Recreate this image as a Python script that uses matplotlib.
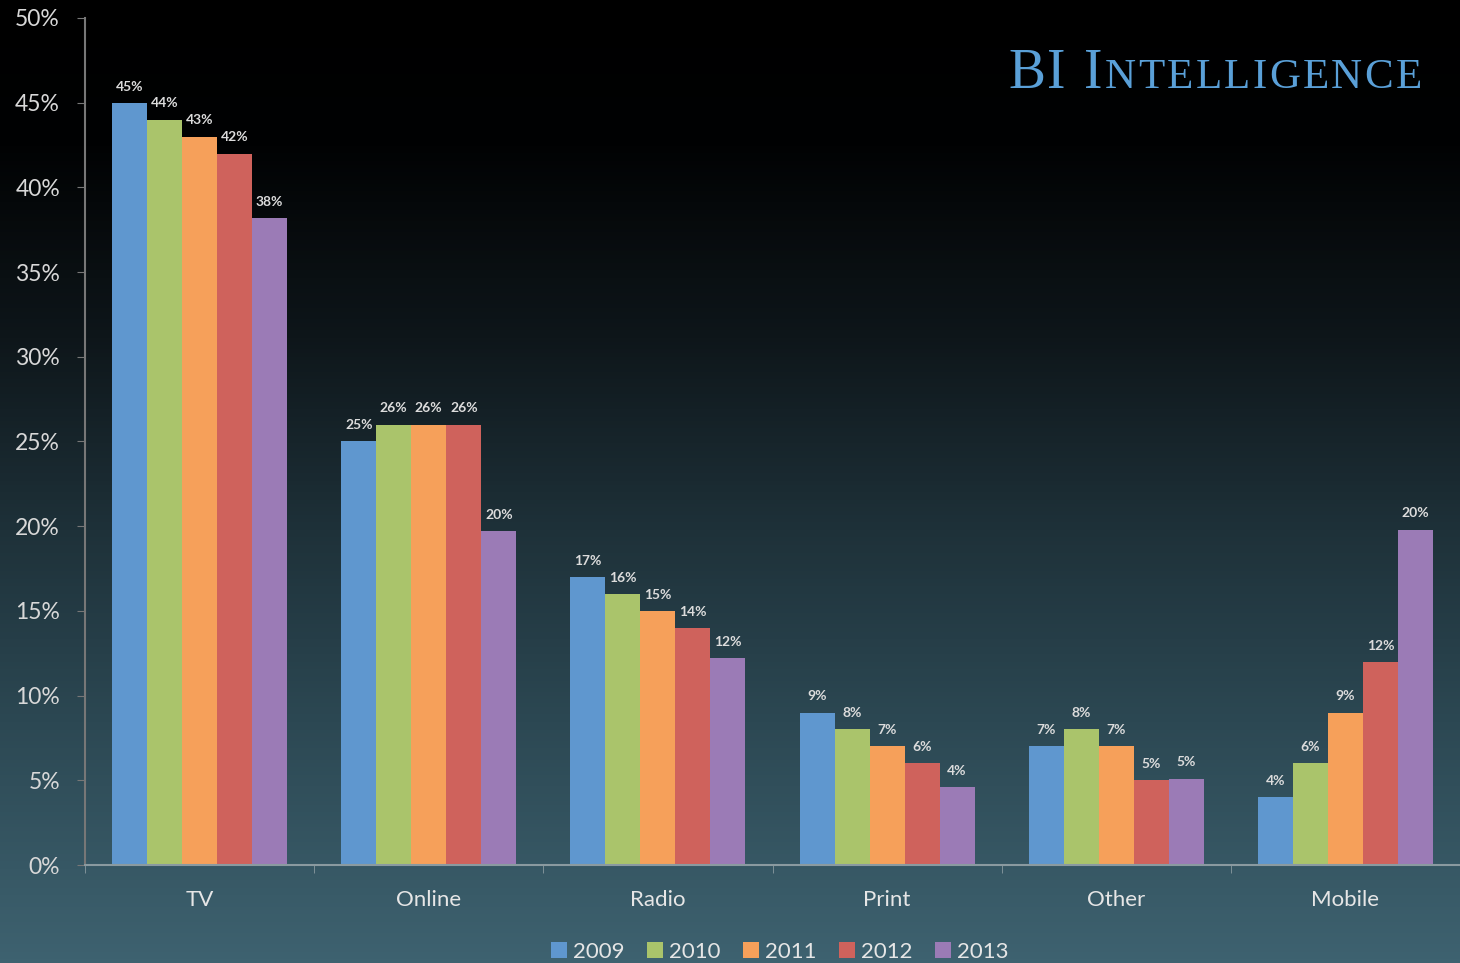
import numpy as np
import matplotlib
matplotlib.use("Agg")
import matplotlib.pyplot as plt
from matplotlib.colors import LinearSegmentedColormap

categories = ["TV", "Online", "Radio", "Print", "Other", "Mobile"]
years = ["2009", "2010", "2011", "2012", "2013"]
v2009 = [45, 25, 17, 9, 7, 4]
v2010 = [44, 26, 16, 8, 8, 6]
v2011 = [43, 26, 15, 7, 7, 9]
v2012 = [42, 26, 14, 6, 5, 12]
v2013 = [38.2, 19.7, 12.2, 4.6, 5.1, 19.8]
labels2013 = ["38%", "20%", "12%", "4%", "5%", "20%"]
yticks = [0, 5, 10, 15, 20, 25, 30, 35, 40, 45, 50]

series = [v2009, v2010, v2011, v2012, v2013]
colors = ["#5f97cf", "#aac46b", "#f6a05a", "#cf625c", "#9b7bb6"]

fig = plt.figure(figsize=(14.6, 9.63), dpi=100)

# gradient background
bg = fig.add_axes([0, 0, 1, 1], zorder=0)
cmap = LinearSegmentedColormap.from_list(
    "bg", [(0.0, "#000000"), (0.15, "#010203"), (0.35, "#0e161a"),
           (0.55, "#1e3139"), (0.75, "#2c4853"), (1.0, "#3e6270")])
grad = np.linspace(0, 1, 256).reshape(-1, 1)
bg.imshow(grad, aspect="auto", cmap=cmap, extent=[0, 1, 1, 0])
bg.set_axis_off()

ax = fig.add_axes([85 / 1460, 1 - 865 / 963, 1 - 85 / 1460, (865 - 18) / 963], zorder=1)
ax.patch.set_alpha(0)

n = len(series)
group_w = 0.764
bw = group_w / n
x = np.arange(len(categories))
font = "Lato"
for i, (vals, c, yr) in enumerate(zip(series, colors, years)):
    pos = x - group_w / 2 + bw * (i + 0.5)
    ax.bar(pos, vals, width=bw, color=c, label=yr, zorder=2)
    for j, (p, v) in enumerate(zip(pos, vals)):
        lab = labels2013[j] if i == n - 1 else f"{v:.0f}%"
        ax.text(p, v + 0.6, lab, ha="center", va="bottom", fontsize=10,
                color="#dcdcdc", family=font, fontweight="bold", zorder=3)

ax.set_xlim(-0.5, len(categories) - 0.5)
ax.set_ylim(0, 50)
ax.set_yticks(yticks)
ax.set_yticklabels([f"{t}%" for t in yticks], fontsize=16.5, color="#d8d8d8", family=font)
ax.set_xticks(x)
ax.set_xticklabels(categories, fontsize=16, color="#e6e6e6", family=font)
ax.tick_params(axis="x", length=0, pad=18)
ax.tick_params(axis="y", length=6, color="#777777", pad=12)
# category separator ticks
ax.set_xticks(np.arange(len(categories) + 1) - 0.5, minor=True)
ax.tick_params(axis="x", which="minor", length=6, color="#8a9aa0", direction="out")

for s in ["top", "right"]:
    ax.spines[s].set_visible(False)
ax.spines["left"].set_color("#777777")
ax.spines["left"].set_linewidth(1.5)
ax.spines["bottom"].set_color("#8a9aa0")
ax.spines["bottom"].set_linewidth(1.5)

leg = fig.legend(loc="center", bbox_to_anchor=(780 / 1460, 1 - 952 / 963), ncol=5,
                 frameon=False, handlelength=0.7, handleheight=0.7,
                 handletextpad=0.3, columnspacing=1.0,
                 prop={"family": font, "size": 16})
for t in leg.get_texts():
    t.set_color("#e6e6e6")

# Title in small caps with letter spacing
tcolor = "#5aa0d8"
fig.canvas.draw()
r = fig.canvas.get_renderer()
title_parts = [("B", 40), ("I", 40), (" ", 40), ("I", 40)] + [(ch, 31) for ch in "NTELLIGENCE"]
xpos = 1008 / 1460
ybase = 1 - 88 / 963
track = 2.3 / 1460
for ch, sz in title_parts:
    t = fig.text(xpos, ybase, ch, fontsize=sz, family="Liberation Serif",
                 color=tcolor, ha="left", va="baseline", zorder=5)
    if ch == " ":
        w = sz * 0.25 * 100 / 72 / 1460
    else:
        w = t.get_window_extent(renderer=r).width / fig.bbox.width
    xpos += w + track

fig.savefig("out.png", dpi=100)
